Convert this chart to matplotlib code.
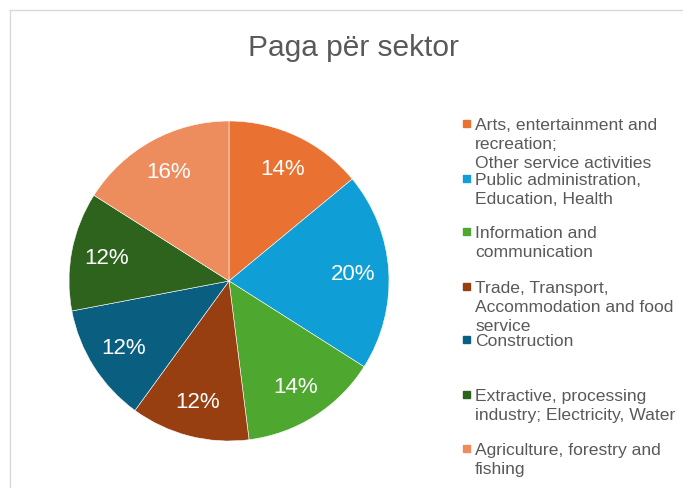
import matplotlib
matplotlib.use("Agg")
import matplotlib.pyplot as plt
from matplotlib.lines import Line2D
from matplotlib.patches import Rectangle

plt.rcParams["font.family"] = ["Liberation Sans", "DejaVu Sans"]

W, H = 683, 489

title = "Paga për sektor"

sectors = [
    "Arts, entertainment and\nrecreation;\nOther service activities",
    "Public administration,\nEducation, Health",
    "Information and\ncommunication",
    "Trade, Transport,\nAccommodation and food\nservice",
    "Construction",
    "Extractive, processing\nindustry; Electricity, Water",
    "Agriculture, forestry and\nfishing",
]
shares = [14, 20, 14, 12, 12, 12, 16]
colors = ["#E97132", "#0F9ED5", "#4EA72E", "#983F12",
          "#0A5E80", "#2E631D", "#ED8D5E"]

# legend marker centres (pixels from top)
legend_y = [124, 179, 232, 287, 340, 395, 449]

fig = plt.figure(figsize=(W / 100, H / 100), dpi=100)


def px(x, y):
    return x / W, 1 - y / H


# pie axes: centre (229, 282), radius 160 px
cx, cy, r = 229, 282, 160
ax = fig.add_axes([(cx - r) / W, (H - cy - r) / H, 2 * r / W, 2 * r / H])
ax.pie(
    shares,
    colors=colors,
    startangle=90,
    counterclock=False,
    autopct="%.0f%%",
    pctdistance=0.78,
    wedgeprops=dict(edgecolor="white", linewidth=0.4),
    textprops=dict(color="white", fontsize=16),
)
ax.set_xlim(-1, 1)
ax.set_ylim(-1, 1)
ax.axis("off")

fig.text(*px(353, 48), title, ha="center", va="center",
         fontsize=21.5, color="#595959")

for label, color, y in zip(sectors, colors, legend_y):
    x0, y0 = px(463, y + 3.5)
    fig.add_artist(Rectangle((x0, y0), 7 / W, 7 / H, color=color,
                             transform=fig.transFigure))
    fig.text(*px(475, y - 6), label, ha="left", va="top",
             fontsize=12.6, color="#595959", linespacing=1.33)

# chart border (cropped at right and bottom)
fig.add_artist(Line2D([10 / W, 1], [1 - 11 / H, 1 - 11 / H],
                      color="#D9D9D9", lw=1, transform=fig.transFigure))
fig.add_artist(Line2D([10 / W, 10 / W], [0, 1 - 11 / H],
                      color="#D9D9D9", lw=1, transform=fig.transFigure))

fig.savefig("out.png", dpi=100)
